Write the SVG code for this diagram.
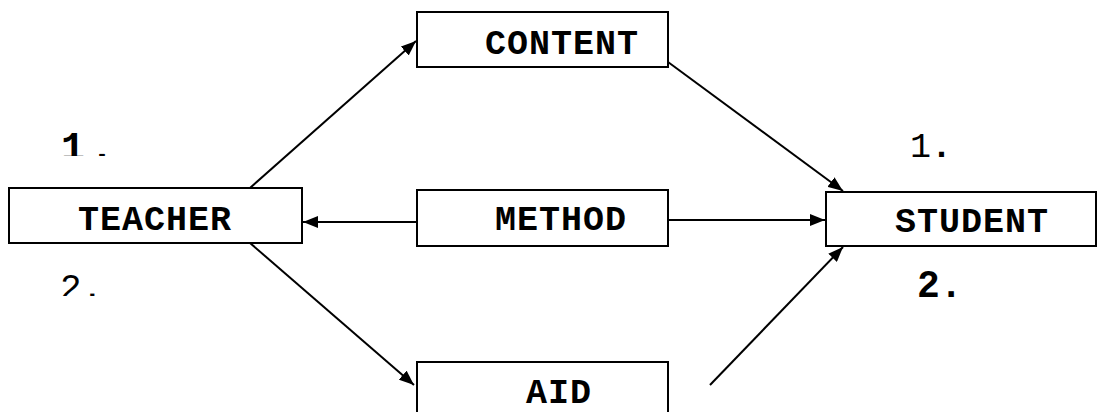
<svg xmlns="http://www.w3.org/2000/svg" width="1102" height="412" viewBox="0 0 1102 412">
<style>
.box{fill:#fff;stroke:#000;stroke-width:2}
.t{font-family:"Liberation Mono","Courier New",monospace;font-weight:bold;font-size:35px;letter-spacing:1px;fill:#000}
.n{font-family:"Liberation Mono","Courier New",monospace;fill:#000}
.c{stroke:#000;stroke-width:2;fill:none;marker-end:url(#ah)}
</style>
<defs>
<marker id="ah" markerWidth="15" markerHeight="12" refX="15" refY="6" orient="auto" markerUnits="userSpaceOnUse"><path d="M0,0 L15,6 L0,12 Z" fill="#000"/></marker>
<clipPath id="c1"><rect x="0" y="0" width="400" height="156"/></clipPath>
<clipPath id="c2"><rect x="0" y="0" width="1102" height="157"/></clipPath>
<clipPath id="c3"><rect x="0" y="0" width="400" height="296"/></clipPath>
</defs>
<g id="connectors">
<line class="c" x1="250" y1="188" x2="416" y2="41"/>
<line class="c" x1="250" y1="243" x2="414" y2="385"/>
<line class="c" x1="417" y1="222" x2="303" y2="222"/>
<line class="c" x1="668" y1="220" x2="825" y2="220"/>
<line class="c" x1="668" y1="62" x2="843" y2="191"/>
<line class="c" x1="710" y1="385" x2="843" y2="247"/>
</g>
<g id="content"><rect class="box" x="417" y="12" width="251" height="55"/><text class="t" x="485" y="54">CONTENT</text></g>
<g id="teacher"><rect class="box" x="9" y="188" width="293" height="55"/><text class="t" x="78" y="230">TEACHER</text></g>
<g id="method"><rect class="box" x="417" y="190" width="251" height="56"/><text class="t" x="495" y="230">METHOD</text></g>
<g id="student"><rect class="box" x="826" y="192" width="270" height="54"/><text class="t" x="895" y="232">STUDENT</text></g>
<g id="aid"><rect class="box" x="417" y="362" width="251" height="60"/><text class="t" x="526" y="403">AID</text></g>
<g id="labels">
<text class="n" clip-path="url(#c1)" x="61" y="160" font-size="40" font-weight="bold" letter-spacing="5">1.</text>
<text class="n" clip-path="url(#c2)" x="910" y="157" font-size="35">1<tspan font-weight="bold">.</tspan></text>
<text class="n" clip-path="url(#c3)" x="60" y="299" font-size="36">2.</text>
<text class="n" x="917" y="297" font-size="38" font-weight="bold">2.</text>
</g>
</svg>
